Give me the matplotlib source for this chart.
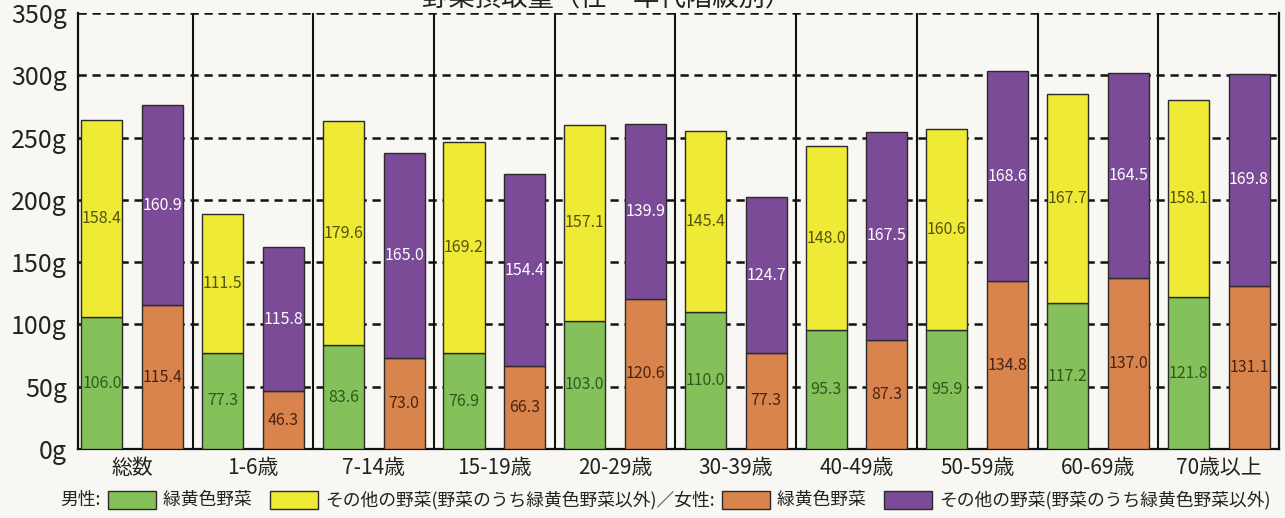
import numpy as np
import matplotlib
matplotlib.use("Agg")
import matplotlib.pyplot as plt
from matplotlib.patches import Rectangle
from matplotlib.offsetbox import TextArea, DrawingArea, HPacker, AnchoredOffsetbox

plt.rcParams['font.family'] = ['Noto Sans CJK JP', 'DejaVu Sans']

# 野菜摂取量 (g)
categories = ['総数', '1-6歳', '7-14歳', '15-19歳', '20-29歳', '30-39歳',
              '40-49歳', '50-59歳', '60-69歳', '70歳以上']
male_gy = [106.0, 77.3, 83.6, 76.9, 103.0, 110.0, 95.3, 95.9, 117.2, 121.8]
male_other = [158.4, 111.5, 179.6, 169.2, 157.1, 145.4, 148.0, 160.6, 167.7, 158.1]
female_gy = [115.4, 46.3, 73.0, 66.3, 120.6, 77.3, 87.3, 134.8, 137.0, 131.1]
female_other = [160.9, 115.8, 165.0, 154.4, 139.9, 124.7, 167.5, 168.6, 164.5, 169.8]
yticks = [0, 50, 100, 150, 200, 250, 300, 350]

GREEN = '#84c15a'
YELLOW = '#eeea35'
ORANGE = '#d8844c'
PURPLE = '#7b4b98'
BG = '#f8f7f3'

fig = plt.figure(figsize=(12.85, 5.18), dpi=100, facecolor=BG)
ax = fig.add_axes([0.0607, 0.133, 0.9346, 0.842])
ax.set_facecolor(BG)

x = np.arange(len(categories))
w = 0.34
off = 0.252

def stack(xpos, low, high, c_low, c_high, t_low, t_high):
    ax.bar(xpos, low, w, color=c_low, edgecolor='#2a2a2a', linewidth=1, zorder=3)
    ax.bar(xpos, high, w, bottom=low, color=c_high, edgecolor='#2a2a2a',
           linewidth=1, zorder=3)
    for xi, a, b in zip(xpos, low, high):
        ax.text(xi, a / 2, f'{a:.1f}', ha='center', va='center', fontsize=11.5,
                color=t_low, zorder=4)
        ax.text(xi, a + b / 2, f'{b:.1f}', ha='center', va='center', fontsize=11.5,
                color=t_high, zorder=4)

stack(x - off, male_gy, male_other, GREEN, YELLOW, '#2e5a1c', '#55540e')
stack(x + off, female_gy, female_other, ORANGE, PURPLE, '#4a2410', 'white')

# dashed horizontal guides and solid group separators
for yv in yticks[1:]:
    ax.axhline(yv, color='#111111', linestyle=(0, (3.3, 2.3)), linewidth=1.8, zorder=1)
for i in range(len(categories) - 1):
    ax.axvline(i + 0.5, color='#111111', linewidth=1.5, zorder=2)

ax.set_xlim(-0.45, len(categories) - 0.5)
ax.set_ylim(0, 350)
ax.set_yticks(yticks)
ax.set_yticklabels([f'{v}g' for v in yticks], fontsize=18, color='#222222')
ax.set_xticks(x)
ax.set_xticklabels(categories, fontsize=15, color='#222222')
ax.tick_params(length=0, pad=6)
ax.tick_params(axis='y', pad=8)
ax.spines['top'].set_visible(False)
for s in ('left', 'right', 'bottom'):
    ax.spines[s].set_linewidth(1.6)
    ax.spines[s].set_color('#111111')

# title, running off the top edge
fig.text(0.472, 0.988, '野菜摂取量（性・年代階級別）', ha='center', va='baseline',
         fontsize=19, color='#222222')

def swatch(color):
    da = DrawingArea(34.5, 13, 0, 0)
    da.add_artist(Rectangle((0, 0), 34.5, 13, facecolor=color,
                            edgecolor='#2a2a2a', linewidth=1))
    return da

tp = dict(fontsize=12.8, color='#222222')
items = [
    TextArea('男性:', textprops=tp), swatch(GREEN),
    TextArea('緑黄色野菜   ', textprops=tp), swatch(YELLOW),
    TextArea('その他の野菜(野菜のうち緑黄色野菜以外)／女性:', textprops=tp), swatch(ORANGE),
    TextArea('緑黄色野菜   ', textprops=tp), swatch(PURPLE),
    TextArea('その他の野菜(野菜のうち緑黄色野菜以外)', textprops=tp),
]
legend_row = HPacker(children=items, align='center', pad=0, sep=5)
anchored = AnchoredOffsetbox(loc='center', child=legend_row, pad=0, frameon=False,
                             bbox_to_anchor=(0.518, 0.035),
                             bbox_transform=fig.transFigure)
fig.add_artist(anchored)

fig.savefig('out.png', dpi=100, facecolor=BG)
